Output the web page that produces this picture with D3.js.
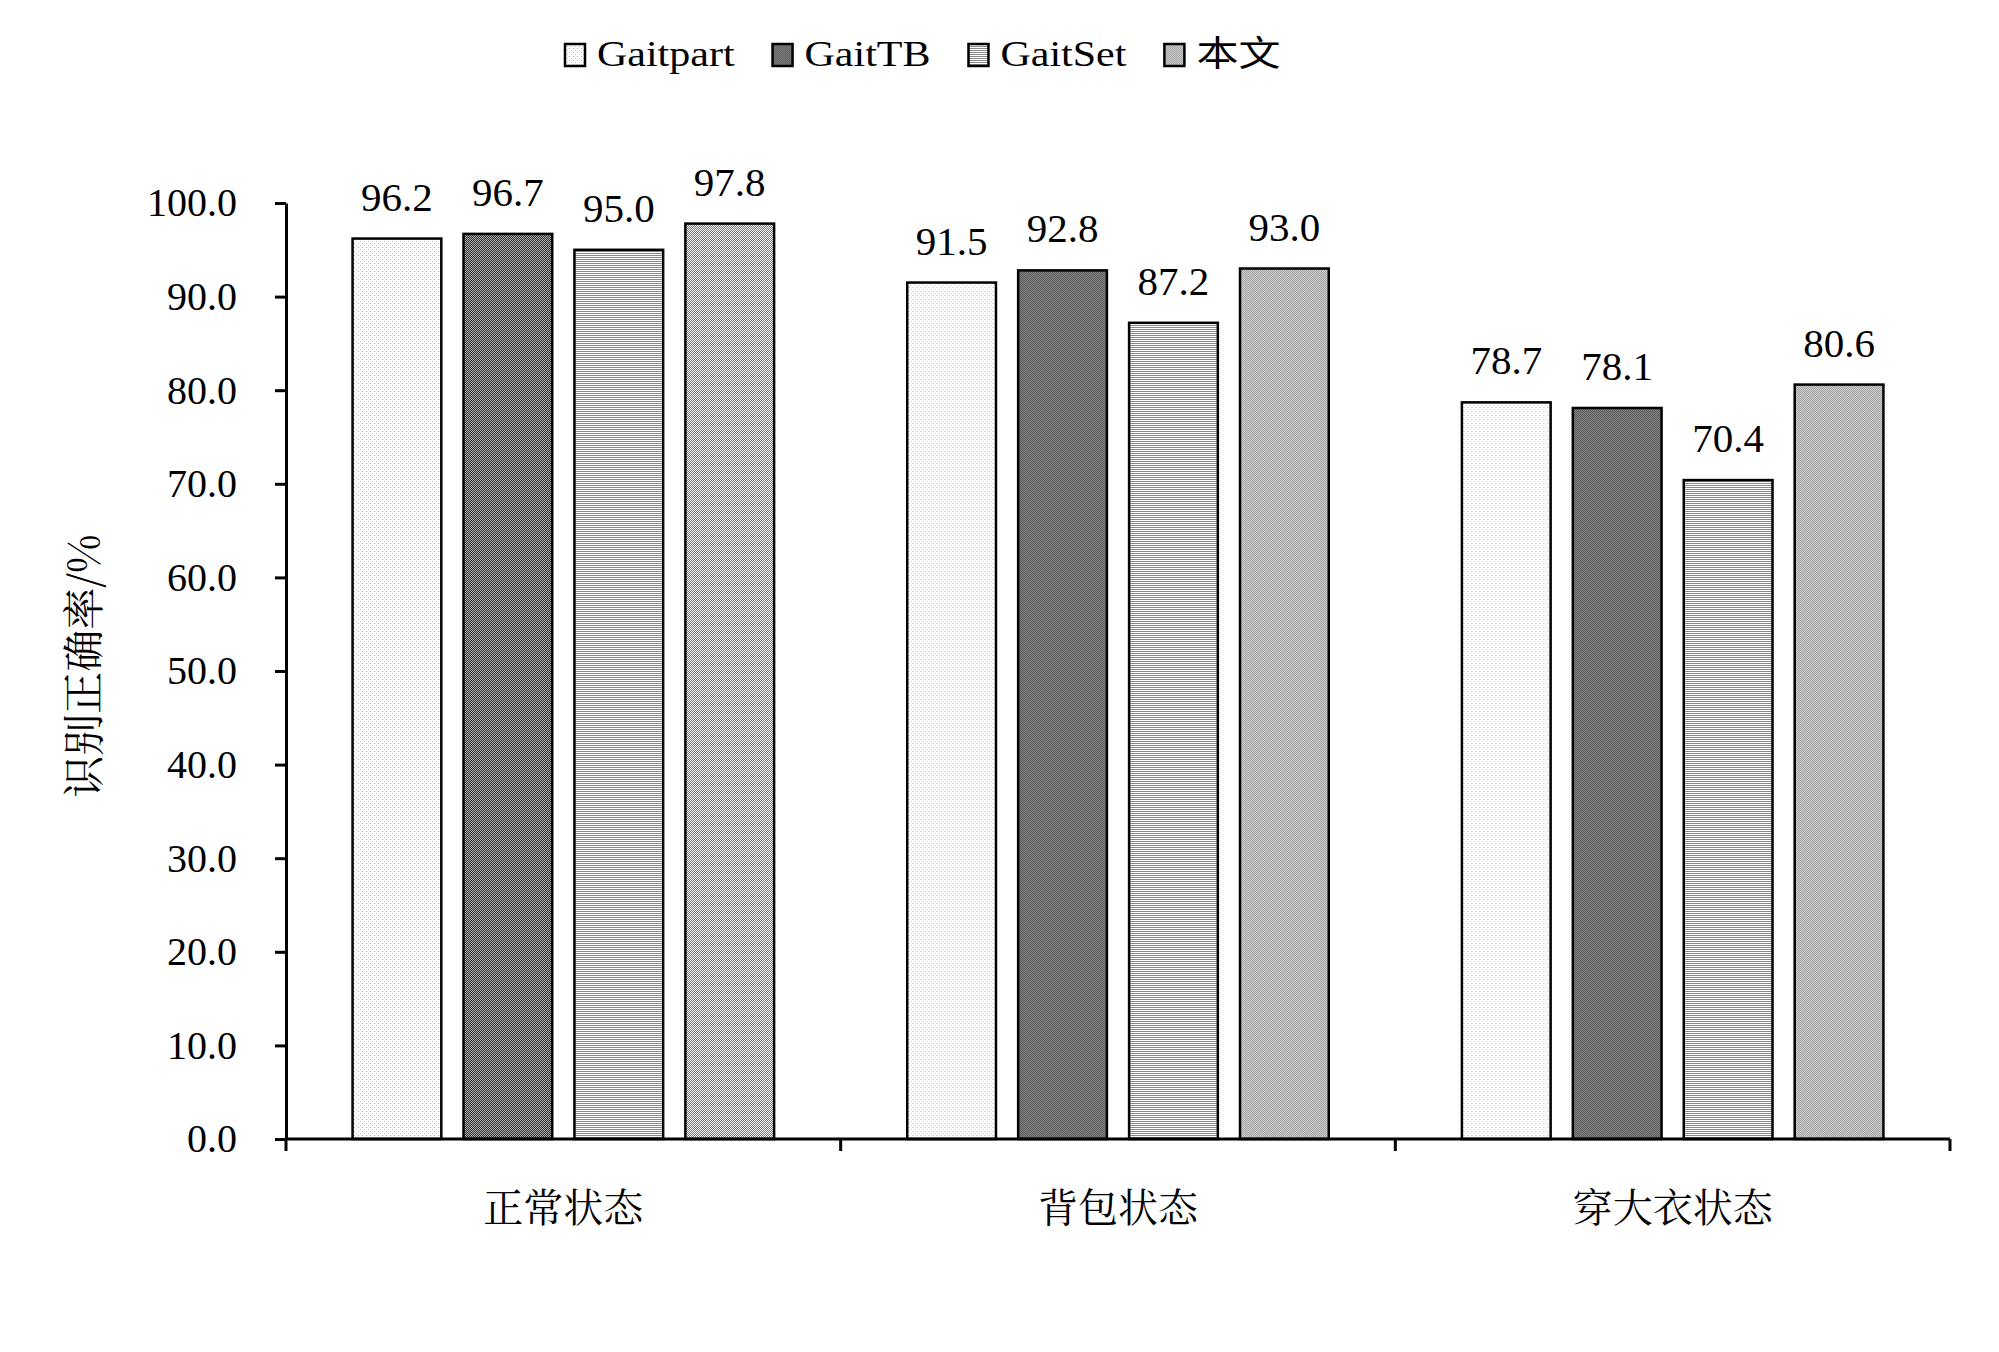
<!DOCTYPE html>
<html>
<head>
<meta charset="utf-8">
<script src="https://cdn.jsdelivr.net/npm/d3@7"></script>
<style>
  body { margin: 0; background: #fff; }
  svg { display: block; }
</style>
</head>
<body>
<div id="chart"></div>
<script>
// Data
var categories = ["正常状态", "背包状态", "穿大衣状态"];
var seriesNames = ["Gaitpart", "GaitTB", "GaitSet", "本文"];
var gaitpart = [96.2, 91.5, 78.7];
var gaittb = [96.7, 92.8, 78.1];
var gaitset = [95.0, 87.2, 70.4];
var ours = [97.8, 93.0, 80.6];
var yTicks = [0, 10, 20, 30, 40, 50, 60, 70, 80, 90, 100];

var seriesValues = [gaitpart, gaittb, gaitset, ours];
var rows = [];
categories.forEach(function(c, i) {
  seriesNames.forEach(function(s, j) {
    rows.push({ cat: c, series: s, value: seriesValues[j][i] });
  });
});

var svgWidth = 1999, svgHeight = 1352;
var margin = { top: 203, left: 286, right: 49, bottom: 213 };
var width = svgWidth - margin.left - margin.right;
var height = svgHeight - margin.top - margin.bottom;

var serif = "'Liberation Serif', 'Times New Roman', serif";
var cjk = "'Noto Serif CJK SC', 'Noto Sans CJK SC', sans-serif";

var svg = d3.select("#chart").append("svg")
  .attr("width", svgWidth)
  .attr("height", svgHeight);

svg.append("rect").attr("width", svgWidth).attr("height", svgHeight).attr("fill", "#fff");

// fill patterns
var defs = svg.append("defs");

function pattern(id, w, h, bg, cells) {
  var p = defs.append("pattern")
    .attr("id", id)
    .attr("patternUnits", "userSpaceOnUse")
    .attr("width", w).attr("height", h);
  p.append("rect").attr("width", w).attr("height", h).attr("fill", bg);
  cells.forEach(function(c) {
    p.append("rect").attr("x", c[0]).attr("y", c[1])
      .attr("width", c[2]).attr("height", c[3]).attr("fill", c[4]);
  });
}
pattern("p0", 4, 4, "#ffffff", [[0, 0, 1, 1, "#b4b4b4"], [2, 2, 1, 1, "#c8c8c8"]]);
pattern("p1", 2, 2, "#a8a8a8", [[0, 0, 1, 1, "#363636"], [1, 1, 1, 1, "#363636"]]);
pattern("p2", 2, 2, "#ffffff", [[0, 0, 2, 1, "#8a8a8a"]]);
pattern("p3", 2, 2, "#f4f4f4", [[0, 0, 1, 1, "#7c7c7c"], [1, 1, 1, 1, "#7c7c7c"]]);

var fillFor = d3.scaleOrdinal().domain(seriesNames).range(["url(#p0)", "url(#p1)", "url(#p2)", "url(#p3)"]);

var chartGroup = svg.append("g")
  .attr("transform", `translate(${margin.left}, ${margin.top})`);

// scales
var x0 = d3.scaleBand().domain(categories).range([0, width]).padding(0);
var x1 = d3.scaleBand().domain(seriesNames).range([0, x0.bandwidth()])
  .paddingInner(0.2).paddingOuter(0.6);
var yScale = d3.scaleLinear().domain([0, 100]).range([height, 0]);

// bars
var groups = chartGroup.selectAll(".cat")
  .data(categories)
  .enter().append("g")
  .attr("class", "cat")
  .attr("transform", d => `translate(${x0(d)}, 0)`);

groups.selectAll("rect")
  .data(c => rows.filter(r => r.cat === c))
  .enter().append("rect")
  .attr("x", d => x1(d.series))
  .attr("y", d => yScale(d.value))
  .attr("width", x1.bandwidth())
  .attr("height", d => height - yScale(d.value))
  .attr("fill", d => fillFor(d.series))
  .attr("stroke", "#000")
  .attr("stroke-width", 2.5);

groups.selectAll(".val")
  .data(c => rows.filter(r => r.cat === c))
  .enter().append("text")
  .attr("class", "val")
  .attr("x", d => x1(d.series) + x1.bandwidth() / 2)
  .attr("y", d => yScale(d.value) - 28)
  .attr("text-anchor", "middle")
  .style("font-family", serif)
  .style("font-size", "41px")
  .text(d => d.value.toFixed(1));

// y axis
var yAxis = d3.axisLeft(yScale)
  .tickValues(yTicks)
  .tickFormat(d3.format(".1f"))
  .tickSize(11)
  .tickSizeOuter(0)
  .tickPadding(38);

var yG = chartGroup.append("g").call(yAxis);
yG.select(".domain").attr("stroke-width", 3);
yG.selectAll(".tick line").attr("stroke-width", 3);
yG.selectAll(".tick text")
  .style("font-family", serif)
  .style("font-size", "40px")
  .attr("fill", "#000");

// x axis: line plus boundary ticks, category labels centred in bands
chartGroup.append("line")
  .attr("x1", 0).attr("x2", width)
  .attr("y1", height).attr("y2", height)
  .attr("stroke", "#000").attr("stroke-width", 3);

var bounds = categories.map(c => x0(c)).concat([x0.range()[1]]);
chartGroup.selectAll(".xtick")
  .data(bounds)
  .enter().append("line")
  .attr("x1", d => d).attr("x2", d => d)
  .attr("y1", height).attr("y2", height + 12)
  .attr("stroke", "#000").attr("stroke-width", 3);

chartGroup.selectAll(".xlabel")
  .data(categories)
  .enter().append("text")
  .attr("x", d => x0(d) + x0.bandwidth() / 2)
  .attr("y", height + 83)
  .attr("text-anchor", "middle")
  .style("font-family", cjk)
  .style("font-size", "40px")
  .text(d => d);

// y axis title
svg.append("text")
  .attr("transform", "translate(99, 666) rotate(-90)")
  .attr("text-anchor", "middle")
  .style("font-family", cjk)
  .style("font-size", "42px")
  .text("识别正确率/%");

// legend (text is stretched wide in the original)
var legend = svg.append("g").attr("transform", "translate(565, 0)");
var cursor = 0;
seriesNames.forEach(function(s) {
  var item = legend.append("g").attr("transform", `translate(${cursor}, 0)`);
  item.append("rect")
    .attr("x", 0).attr("y", 44)
    .attr("width", 20).attr("height", 22)
    .attr("fill", fillFor(s))
    .attr("stroke", "#000").attr("stroke-width", 2.5);
  var t = item.append("text")
    .attr("transform", "translate(32, 66) scale(1.2, 1)")
    .style("font-family", serif + ", 'Noto Sans CJK SC'")
    .style("font-size", "35px")
    .text(s);
  cursor += 32 + t.node().getComputedTextLength() * 1.2 + 38;
});
</script>
</body>
</html>
